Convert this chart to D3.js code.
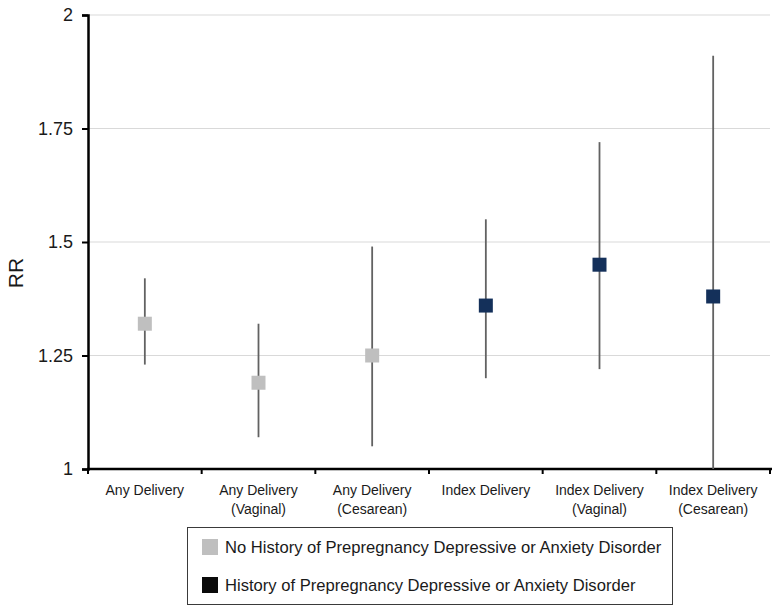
<!DOCTYPE html>
<html><head><meta charset="utf-8">
<script src="https://cdn.jsdelivr.net/npm/d3@7"></script>
<style>body{margin:0;background:#fff}svg{display:block;font-family:Arial,"Liberation Sans",sans-serif}</style>
</head><body>
<svg id="c" width="779" height="612"></svg>
<script>
const categories = [["Any Delivery"],["Any Delivery","(Vaginal)"],["Any Delivery","(Cesarean)"],["Index Delivery"],["Index Delivery","(Vaginal)"],["Index Delivery","(Cesarean)"]];
const groups = ["none","none","none","hist","hist","hist"];
const rr = [1.32, 1.19, 1.25, 1.36, 1.45, 1.38];
const lower = [1.23, 1.07, 1.05, 1.20, 1.22, 1.00];
const upper = [1.42, 1.32, 1.49, 1.55, 1.72, 1.91];
const yTicks = [1, 1.25, 1.5, 1.75, 2];
const yTickLabels = ["1","1.25","1.5","1.75","2"];
const legendLabels = ["No History of Prepregnancy Depressive or Anxiety Disorder","History of Prepregnancy Depressive or Anxiety Disorder"];

const colors = {none:"#bfbfbf", hist:"#14305a"};
const legendColors = ["#bfbfbf","#0a0a0a"];
const svg = d3.select("#c");
const L=88, R=770, T=15, B=469;
const x = d3.scaleBand().domain(d3.range(categories.length)).range([L,R]);
const y = d3.scaleLinear().domain([1,2]).range([B,T]);

// gridlines
svg.append("g").selectAll("line").data(yTicks.filter(d=>d>1)).join("line")
  .attr("x1",L).attr("x2",R).attr("y1",d=>y(d)).attr("y2",d=>y(d))
  .attr("stroke","#d9d9d9").attr("stroke-width",1);

// y axis
const ya = svg.append("g").attr("transform",`translate(${L},0)`)
  .call(d3.axisLeft(y).tickValues(yTicks).tickFormat((d,i)=>yTickLabels[i]).tickSize(6).tickPadding(9));
ya.select(".domain").attr("stroke","#000").attr("stroke-width",2.5);
ya.selectAll(".tick line").attr("stroke","#000").attr("stroke-width",2);
ya.selectAll(".tick text").attr("font-size","18px").attr("fill","#1a1a1a").attr("font-family","Arial, 'Liberation Sans', sans-serif");

svg.append("text").attr("transform",`translate(23,273) rotate(-90)`)
  .attr("text-anchor","middle").attr("font-size","21px").attr("fill","#1a1a1a").text("RR");

// x axis
const xa = svg.append("g").attr("transform",`translate(0,${B})`);
xa.append("line").attr("x1",L-1).attr("x2",R+2).attr("y1",0).attr("y2",0).attr("stroke","#000").attr("stroke-width",2.5);
const bounds = d3.range(categories.length+1).map(i=> i<categories.length ? x(i) : x(categories.length-1)+x.bandwidth());
xa.selectAll("line.t").data(bounds).join("line").attr("class","t")
  .attr("x1",d=>d).attr("x2",d=>d).attr("y1",0).attr("y2",5).attr("stroke","#000").attr("stroke-width",2);
const lab = xa.selectAll("text").data(categories).join("text")
  .attr("text-anchor","middle").attr("font-size","14px").attr("fill","#1a1a1a")
  .attr("transform",(d,i)=>`translate(${x(i)+x.bandwidth()/2},0)`);
lab.selectAll("tspan").data(d=>d).join("tspan").attr("x",0).attr("y",(d,i)=>26+i*19).text(d=>d);

// error bars
svg.append("g").selectAll("line").data(rr).join("line")
  .attr("x1",(d,i)=>x(i)+x.bandwidth()/2).attr("x2",(d,i)=>x(i)+x.bandwidth()/2)
  .attr("y1",(d,i)=>y(upper[i])).attr("y2",(d,i)=>y(lower[i]))
  .attr("stroke","#626262").attr("stroke-width",1.8);

// markers
const s=14;
svg.append("g").selectAll("rect").data(rr).join("rect")
  .attr("x",(d,i)=>x(i)+x.bandwidth()/2-s/2).attr("y",d=>y(d)-s/2)
  .attr("width",s).attr("height",s).attr("fill",(d,i)=>colors[groups[i]]);

// legend
const lg = svg.append("g");
lg.append("rect").attr("x",187.5).attr("y",527.5).attr("width",485).attr("height",77)
  .attr("fill","#fff").attr("stroke","#3a3a3a").attr("stroke-width",1);
legendLabels.forEach((t,i)=>{
  const cy = 547 + i*38;
  lg.append("rect").attr("x",202).attr("y",cy-8).attr("width",16).attr("height",16).attr("fill",legendColors[i]);
  lg.append("text").attr("x",225).attr("y",cy+6).attr("font-size","16.6px").attr("fill","#1a1a1a").text(t);
});
</script>
</body></html>
